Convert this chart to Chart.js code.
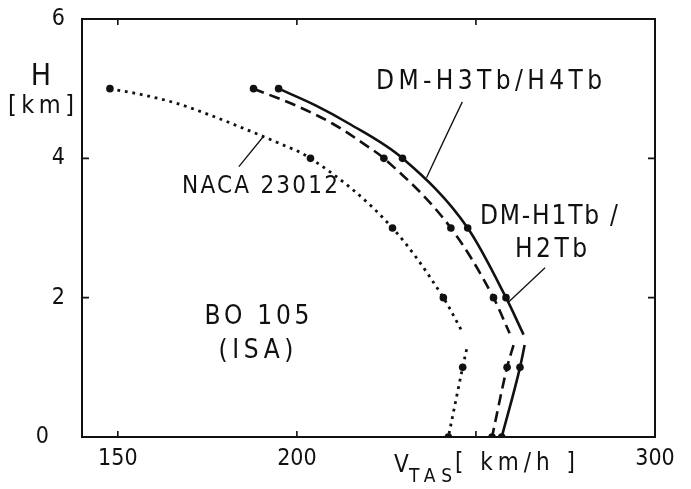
<!DOCTYPE html>
<html>
<head>
<meta charset="utf-8">
<title>BO 105 – V_TAS über H</title>
<script src="https://cdn.jsdelivr.net/npm/chart.js@4/dist/chart.umd.min.js"></script>
<style>
  html, body { margin: 0; padding: 0; background: #fff; }
  #wrap { width: 691px; height: 489px; position: relative; }
</style>
</head>
<body>
<div id="wrap"><canvas id="c" width="691" height="489"></canvas></div>
<script>
// Measured points (filled dots): altitude H [km] and true airspeed [km/h]
const altitudes  = [5, 4, 3, 2, 1, 0];
const nacaSpeed  = [147.8, 203.8, 226.7, 240.9, 246.3, 242.3];
const h12Speed   = [187.9, 224.3, 243.0, 254.9, 258.7, 254.5];
const h34Speed   = [194.9, 229.5, 247.7, 258.4, 262.3, 257.2];

// Faired curves, upper branch (power limited) and lower branch
const nacaUpperV = [147.8, 157.1, 166.4, 175.8, 185.1, 194.4, 203.8, 226.7, 240.9, 246.3];
const nacaUpperH = [5.00, 4.91, 4.79, 4.62, 4.43, 4.23, 4.00, 3.00, 2.00, 1.50];
const nacaLowerV = [247.4, 246.3, 242.3];
const nacaLowerH = [1.26, 1.00, 0.00];

const h12UpperV = [187.9, 200.5, 209.9, 219.2, 224.3, 243.0, 254.9, 259.4];
const h12UpperH = [5.00, 4.74, 4.50, 4.19, 4.00, 3.00, 2.00, 1.49];
const h12LowerV = [260.5, 258.7, 254.5];
const h12LowerH = [1.32, 1.00, 0.00];

const h34UpperV = [194.9, 205.2, 214.5, 229.5, 247.7, 258.4, 263.3];
const h34UpperH = [5.00, 4.76, 4.50, 4.00, 3.00, 2.00, 1.47];
const h34LowerV = [263.6, 262.3, 257.2];
const h34LowerH = [1.32, 1.00, 0.00];

// Axis ticks
const speedTicks  = [150, 200, 250, 300];
const heightTicks = [0, 2, 4, 6];

const FONT = "'Liberation Sans Narrow', 'DejaVu Sans Condensed', 'DejaVu Sans', sans-serif";
const INK = '#111';

function pts(xs, ys) { return xs.map((x, i) => ({ x: x, y: ys[i] })); }

function curve(xs, ys, dash, width) {
  return {
    type: 'scatter', showLine: true, data: pts(xs, ys),
    borderColor: INK, borderWidth: width, borderDash: dash, borderCapStyle: 'butt',
    pointRadius: 0, cubicInterpolationMode: 'monotone', fill: false
  };
}
function dots(xs, ys) {
  return {
    type: 'scatter', showLine: false, data: pts(xs, ys),
    pointRadius: 3.8, pointBackgroundColor: INK, pointBorderWidth: 0
  };
}

const DOTTED = [2.8, 4.8];
const DASHED = [11, 6];

// Text with its letters spread to a given overall width, centred on (cx, cy)
function spaced(ctx, text, cx, cy, size, width) {
  ctx.font = size + 'px ' + FONT;
  ctx.letterSpacing = '0px';
  const w0 = ctx.measureText(text).width;
  const n = Array.from(text).length;
  const ls = Math.max(0, (width - w0) / Math.max(1, n - 1));
  ctx.letterSpacing = ls + 'px';
  ctx.textAlign = 'left';
  ctx.textBaseline = 'middle';
  ctx.fillText(text, cx - (w0 + ls * (n - 1)) / 2, cy);
  ctx.letterSpacing = '0px';
}

const decor = {
  id: 'decor',
  afterDraw(chart) {
    const { ctx, chartArea: a, scales: { x, y } } = chart;
    ctx.save();
    ctx.strokeStyle = INK; ctx.fillStyle = INK;

    // frame
    ctx.lineWidth = 2;
    ctx.strokeRect(a.left, a.top, a.right - a.left, a.bottom - a.top);

    // inward tick marks
    ctx.lineWidth = 1.6;
    ctx.beginPath();
    speedTicks.filter(v => v < 300).forEach(v => {
      const px = x.getPixelForValue(v);
      ctx.moveTo(px, a.bottom); ctx.lineTo(px, a.bottom - 6);
      ctx.moveTo(px, a.top); ctx.lineTo(px, a.top + 6);
    });
    heightTicks.filter(v => v > 0 && v < 6).forEach(v => {
      const py = y.getPixelForValue(v);
      ctx.moveTo(a.left, py); ctx.lineTo(a.left + 7, py);
      ctx.moveTo(a.right, py); ctx.lineTo(a.right - 7, py);
    });
    ctx.stroke();

    // height tick labels (the 0 sits further out, clear of the corner)
    ctx.font = '23px ' + FONT;
    ctx.textAlign = 'right';
    ctx.textBaseline = 'middle';
    heightTicks.forEach(v => {
      const py = y.getPixelForValue(v);
      const right = v === 0 ? a.left - 33 : a.left - 17;
      ctx.fillText(String(v), right, py);
    });

    // leader lines from labels to curves
    const P = (vx, vy) => [x.getPixelForValue(vx), y.getPixelForValue(vy)];
    ctx.lineWidth = 1.3;
    ctx.beginPath();
    let p = P(183.8, 3.88), q = P(190.6, 4.31);
    ctx.moveTo(p[0], p[1]); ctx.lineTo(q[0], q[1]);
    p = P(246.2, 4.81); q = P(236.2, 3.72);
    const c1 = P(240.5, 4.20);
    ctx.moveTo(p[0], p[1]); ctx.quadraticCurveTo(c1[0], c1[1], q[0], q[1]);
    p = P(269.3, 2.43); q = P(259.2, 1.94);
    ctx.moveTo(p[0], p[1]); ctx.lineTo(q[0], q[1]);
    ctx.stroke();

    // curve labels
    spaced(ctx, 'NACA 23012', 260, 187, 24, 156);
    spaced(ctx, 'DM-H3Tb/H4Tb', 489, 82, 26, 226);
    spaced(ctx, 'DM-H1Tb /', 549, 217, 26, 138);
    spaced(ctx, 'H2Tb', 551, 250, 26, 72);
    spaced(ctx, 'BO 105', 257, 317, 26, 105);
    spaced(ctx, '(ISA)', 256, 351, 26, 75);

    // axis titles
    spaced(ctx, 'H', 41, 77, 30, 18);
    spaced(ctx, '[km]', 41, 106, 25, 66);
    ctx.textBaseline = 'alphabetic';
    ctx.textAlign = 'left';
    ctx.font = '24px ' + FONT;
    ctx.fillText('V', 394, 472);
    spaced(ctx, 'TAS', 409 + 43 / 2, 477, 19, 43);
    spaced(ctx, '[ km/h ]', 515, 464, 24, 120);
    ctx.restore();
  }
};

new Chart(document.getElementById('c'), {
  type: 'scatter',
  data: {
    datasets: [
      curve(nacaUpperV, nacaUpperH, DOTTED, 2.8),
      curve(nacaLowerV, nacaLowerH, DOTTED, 2.8),
      curve(h12UpperV, h12UpperH, DASHED, 2.6),
      curve(h12LowerV, h12LowerH, DASHED, 2.6),
      curve(h34UpperV, h34UpperH, [], 2.6),
      curve(h34LowerV, h34LowerH, [], 2.6),
      dots(nacaSpeed, altitudes),
      dots(h12Speed, altitudes),
      dots(h34Speed, altitudes)
    ]
  },
  options: {
    responsive: false,
    animation: false,
    events: [],
    indexAxis: 'x',
    layout: { padding: { left: 0, right: 36, top: 19, bottom: 0 } },
    plugins: { legend: { display: false }, tooltip: { enabled: false } },
    scales: {
      x: {
        type: 'linear', min: 140, max: 300,
        afterFit(s) { s.height = 52; },
        afterBuildTicks(s) { s.ticks = speedTicks.map(v => ({ value: v })); },
        grid: { display: false, drawTicks: false },
        border: { display: false },
        ticks: {
          color: INK, padding: 8,
          font: { family: FONT, size: 23 },
          callback: v => (v === 250 ? '' : String(v))
        }
      },
      y: {
        type: 'linear', min: 0, max: 6,
        afterFit(s) { s.width = 82; },
        afterBuildTicks(s) { s.ticks = heightTicks.map(v => ({ value: v })); },
        grid: { display: false, drawTicks: false },
        border: { display: false },
        ticks: { display: false }
      }
    }
  },
  plugins: [decor]
});
</script>
</body>
</html>
